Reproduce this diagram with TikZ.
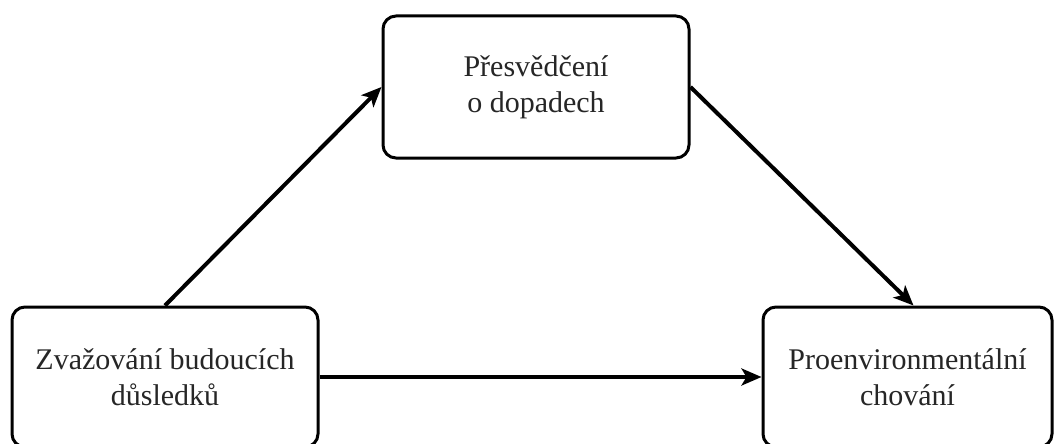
\documentclass[tikz,border=0pt]{standalone}
\usepackage{fontspec}
\setmainfont{Liberation Serif}
\usetikzlibrary{arrows.meta}
\begin{document}
\begin{tikzpicture}[x=1pt,y=-1pt,
  box/.style={draw=black, line width=3pt, rounded corners=13pt, fill=white,
    align=center, inner sep=0pt, font=\fontsize{30}{36}\selectfont, text=black!85},
  conn/.style={line width=4pt, -{Stealth[length=20pt,width=17pt,inset=5pt]}}]
\useasboundingbox (0,0) rectangle (1060,444);
\clip (0,0) rectangle (1060,444);
\fill[white] (0,0) rectangle (1060,444);
\node[box, minimum width=306pt, minimum height=142pt] (top) at (536,87) {Přesvědčení\\o dopadech};
\node[box, minimum width=306pt, minimum height=140pt] (left) at (165,377) {Zvažování budoucích\\důsledků};
\node[box, minimum width=289pt, minimum height=140pt] (right) at (907.5,377) {Proenvironmentální\\chování};
\draw[conn] (left.north) -- (top.west);
\draw[conn] (top.east) -- ([xshift=6pt]right.north);
\draw[conn] (left.east) -- (right.west);
\end{tikzpicture}
\end{document}
